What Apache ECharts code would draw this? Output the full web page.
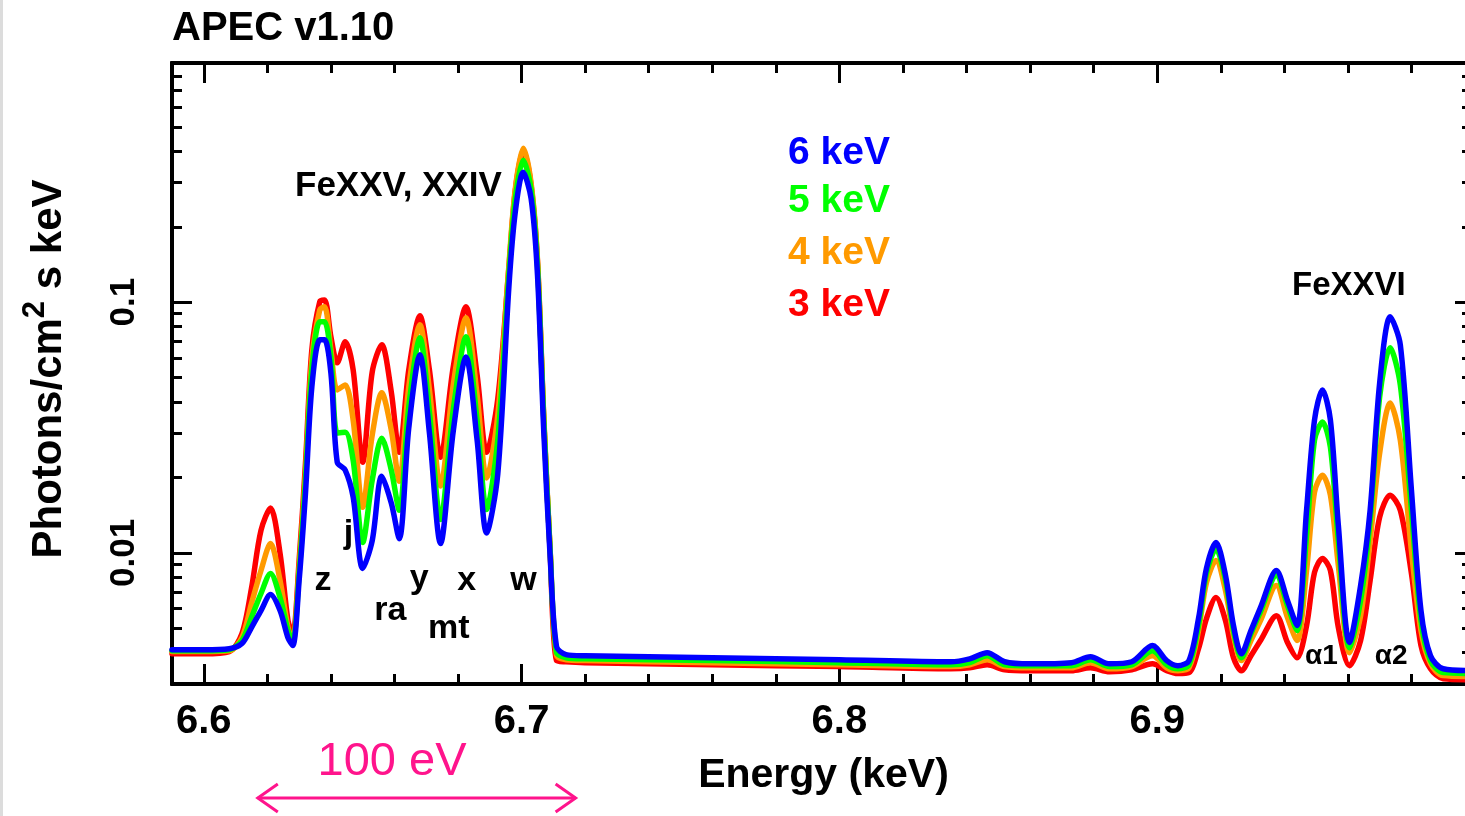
<!DOCTYPE html>
<html>
<head>
<meta charset="utf-8">
<script src="https://cdn.jsdelivr.net/npm/echarts@6/dist/echarts.min.js"></script>
<style>html,body{margin:0;padding:0;background:#fff;}#c{width:1465px;height:816px;}</style>
</head>
<body>
<div id="c"></div>
<script>
// ---------------- data ----------------
const energy = [6.590,6.600,6.608,6.612,6.615,6.618,6.621,6.624,6.6265,6.628,
  6.630,6.632,6.634,6.6365,6.638,6.640,6.642,6.6445,6.647,6.650,
  6.653,6.656,6.659,6.6615,6.6645,6.668,6.671,6.6745,6.6785,6.6825,
  6.686,6.689,6.6925,6.696,6.698,6.7005,6.703,6.705,6.707,6.709,
  6.711,6.714,6.72,6.76,6.80,6.835,6.841,6.8465,6.852,6.86,
  6.873,6.879,6.885,6.892,6.8985,6.903,6.9065,6.910,6.913,6.9155,
  6.9185,6.9215,6.924,6.9265,6.9295,6.9325,6.9375,6.941,6.944,6.947,
  6.9495,6.952,6.9545,6.957,6.9605,6.964,6.967,6.970,6.9733,6.9765,
  6.980,6.983,6.986,6.990,7.000];

const flux6keV = [.00411,.00411,.00415,.00435,.00504,.00589,.00682,.00589,.00459,.00427,
  .00776,.0173,.0459,.0708,.0708,.0522,.0230,.0214,.0167,.00867,
  .0112,.0202,.0158,.0114,.0315,.0617,.0301,.0109,.0306,.0605,
  .0282,.0120,.0206,.115,.228,.330,.259,.129,.0301,.0096,
  .00423,.00393,.00389,.00382,.00375,.00368,.00378,.00400,.00368,.00361,
  .00365,.00385,.00361,.00368,.00427,.00372,.00355,.00372,.00547,.00867,
  .0110,.00813,.00513,.00396,.00490,.00605,.00851,.00646,.00513,.0148,
  .0339,.0447,.0339,.0129,.00439,.00741,.0148,.0476,.0875,.0676,
  .0178,.00589,.00389,.00345,.00339];

const flux5keV = [.00407,.00407,.00411,.00447,.00552,.00689,.00828,.00664,.00490,.00443,
  .00828,.0195,.0537,.0836,.0836,.0605,.0301,.0303,.0234,.0110,
  .0195,.0287,.0214,.0148,.0382,.0721,.0365,.0136,.0372,.0728,
  .0339,.0149,.0282,.129,.257,.368,.282,.140,.0333,.0101,
  .00400,.00382,.00378,.00372,.00365,.00358,.00365,.00389,.00358,.00355,
  .00355,.00375,.00352,.00358,.00407,.00358,.00345,.00358,.00513,.00828,
  .0104,.00776,.00490,.00382,.00476,.00583,.00813,.00617,.00490,.0117,
  .0282,.0333,.0264,.0112,.00419,.00646,.0135,.0419,.0658,.0468,
  .0148,.00537,.00372,.00333,.00330];

const flux4keV = [.00404,.00404,.00407,.00459,.00628,.00851,.0109,.00776,.00504,.00447,
  .00875,.0208,.0589,.0933,.0959,.0646,.0447,.0468,.0339,.0152,
  .0295,.0435,.0309,.0193,.0459,.0813,.0447,.0185,.0468,.0867,
  .0427,.0199,.0352,.140,.282,.411,.298,.148,.0345,.0102,
  .00389,.00375,.00372,.00365,.00358,.00352,.00358,.00375,.00352,.00348,
  .00348,.00365,.00345,.00352,.00389,.00348,.00339,.00348,.00490,.00762,
  .00933,.00708,.00468,.00372,.00447,.00537,.00741,.00552,.00447,.00851,
  .0175,.0204,.0170,.00891,.00400,.00562,.0112,.0250,.0396,.0282,
  .0102,.00490,.00361,.00324,.00321];

const flux3keV = [.00396,.00396,.00404,.00476,.00721,.0123,.0151,.00996,.00537,.00476,
  .00933,.0228,.0646,.1005,.102,.0728,.0573,.0695,.0537,.0230,
  .0527,.0676,.0439,.0252,.0537,.0883,.0537,.0241,.0552,.0959,
  .0513,.0252,.0411,.137,.277,.404,.292,.145,.0339,.0100,
  .00372,.00368,.00365,.00358,.00352,.00345,.00348,.00358,.00342,.00339,
  .00339,.00348,.00336,.00342,.00361,.00339,.00330,.00333,.00415,.00547,
  .00664,.00537,.00382,.00339,.00389,.00447,.00562,.00439,.00382,.00513,
  .00836,.00951,.00851,.00504,.00355,.00447,.00776,.0139,.0170,.0148,
  .00828,.00427,.00345,.00315,.00312];

const seriesNames = ['3 keV', '4 keV', '5 keV', '6 keV'];
const xMajorTicks = [6.6, 6.7, 6.8, 6.9, 7.0];
const xTickLabels = [6.6, 6.7, 6.8, 6.9];
const xMinorTicks = [6.62,6.64,6.66,6.68,6.72,6.74,6.76,6.78,6.82,6.84,6.86,6.88,6.92,6.94,6.96,6.98];
const yMajorTicks = [0.01, 0.1];
const yTickLabels = [0.01, 0.1];
const yMinorTicks = [0.004,0.005,0.006,0.007,0.008,0.009,0.02,0.03,0.04,0.05,0.06,0.07,0.08,0.09,0.2,0.3,0.4,0.5,0.6,0.7,0.8,0.9];
const lineLabels = [
  {t:'z', e:6.6375, y:581},{t:'j', e:6.6455, y:534},{t:'ra', e:6.6587, y:611},
  {t:'y', e:6.6678, y:579},{t:'x', e:6.6827, y:581},{t:'w', e:6.7006, y:581},
  {t:'mt', e:6.6771, y:629}
];

// ---------------- chart ----------------
const FONT = '"Liberation Sans", Arial, Helvetica, sans-serif';
const X_MIN = 6.59, X_MAX = 7.0, Y_MIN = 0.003, Y_MAX = 0.9;
const chart = echarts.init(document.getElementById('c'), null, {renderer: 'canvas', width: 1465, height: 816});

function xAxisDef(pos, ticks, len, labels) {
  return {
    type: 'value', position: pos, min: X_MIN, max: X_MAX, scale: true,
    axisLine: {show: true, onZero: false, lineStyle: {color: '#000', width: 4}},
    axisTick: {show: true, inside: true, length: len, customValues: ticks, lineStyle: {color: '#000', width: 3}},
    axisLabel: labels ? {show: true, customValues: labels, margin: 18, formatter: v => Number(v).toFixed(1),
      fontSize: 40, fontWeight: 'bold', fontFamily: FONT, color: '#000'} : {show: false},
    splitLine: {show: false}, minorTick: {show: false}
  };
}
function yAxisDef(pos, ticks, len, labels) {
  return {
    type: 'log', logBase: 10, position: pos, min: Y_MIN, max: Y_MAX,
    axisLine: {show: true, onZero: false, lineStyle: {color: '#000', width: 4}},
    axisTick: {show: true, inside: true, length: len, customValues: ticks, lineStyle: {color: '#000', width: 3}},
    axisLabel: labels ? {show: true, customValues: labels, rotate: 90, margin: 30,
      formatter: v => String(Number(Number(v).toPrecision(2))),
      fontSize: 35, fontWeight: 'bold', fontFamily: FONT, color: '#000'} : {show: false},
    splitLine: {show: false}, minorTick: {show: false}
  };
}

const xAxes = [
  xAxisDef('bottom', xMajorTicks, 20, xTickLabels),
  xAxisDef('bottom', xMinorTicks, 10, null),
  xAxisDef('top', xMajorTicks, 20, null),
  xAxisDef('top', xMinorTicks, 10, null)
];
xAxes[0].name = 'Energy (keV)';
xAxes[0].nameLocation = 'middle';
xAxes[0].nameGap = 71;
xAxes[0].nameTextStyle = {fontSize: 41, fontWeight: 'bold', fontFamily: FONT, color: '#000'};

const yAxes = [
  yAxisDef('left', yMajorTicks, 20, yTickLabels),
  yAxisDef('left', yMinorTicks, 10, null),
  yAxisDef('right', yMajorTicks, 20, null),
  yAxisDef('right', yMinorTicks, 13, null)
];

const colors = {'3 keV': '#ff0000', '4 keV': '#ff9a00', '5 keV': '#00ff00', '6 keV': '#0000ff'};
const fluxes = {'3 keV': flux3keV, '4 keV': flux4keV, '5 keV': flux5keV, '6 keV': flux6keV};

const series = seriesNames.map((name, k) => ({
  name, type: 'line', xAxisIndex: 0, yAxisIndex: 0,
  data: energy.map((e, i) => [e, fluxes[name][i]]),
  showSymbol: false, symbol: 'none', smooth: 0.3, clip: true, silent: true,
  color: colors[name], z: 2 + k,
  lineStyle: {color: colors[name], width: 5.5, cap: 'round', join: 'round'}
}));

chart.setOption({
  animation: false,
  backgroundColor: '#fff',
  title: {text: 'APEC v1.10', left: 172, top: 9, padding: 0,
    textStyle: {fontSize: 40, fontWeight: 'bold', fontFamily: FONT, color: '#000'}},
  grid: {left: 172, top: 63, width: 1303, height: 621, containLabel: false, outerBoundsMode: 'none'},
  xAxis: xAxes,
  yAxis: yAxes,
  series
});

// ---------------- annotations ----------------
function px(e) { return chart.convertToPixel({xAxisIndex: 0}, e); }
function txt(x, y, t, size, color, align, weight, extra) {
  return Object.assign({
    type: 'text', x, y, silent: true, z: 100,
    style: {text: t, fill: color, font: (weight || 'bold') + ' ' + size + 'px ' + FONT,
      align: align || 'center', textAlign: align || 'center',
      verticalAlign: 'middle', textVerticalAlign: 'middle'}
  }, extra || {});
}

const legendItems = [
  {name: '6 keV', y: 153}, {name: '5 keV', y: 201}, {name: '4 keV', y: 253}, {name: '3 keV', y: 305}
];
const arrowStartE = 6.617, arrowSpan = 0.1;
const ax0 = px(arrowStartE), ax1 = px(arrowStartE + arrowSpan);
const pink = '#ff148c';
const ay = 798;

const graphics = [
  {type: 'rect', shape: {x: 0, y: 0, width: 3, height: 816}, style: {fill: '#dcdcdc'}, silent: true},
  {
    type: 'text', x: 45, y: 369, rotation: Math.PI / 2, silent: true, z: 100,
    style: {
      text: '{a|Photons/cm}{s|2}{a| s keV}',
      align: 'center', textAlign: 'center', verticalAlign: 'middle', textVerticalAlign: 'middle',
      rich: {
        a: {fontSize: 42, fontWeight: 'bold', fontFamily: FONT, fill: '#000', color: '#000', lineHeight: 50, verticalAlign: 'bottom'},
        s: {fontSize: 31, fontWeight: 'bold', fontFamily: FONT, fill: '#000', color: '#000', lineHeight: 30, verticalAlign: 'top'}
      }
    }
  },
  txt(295, 186, 'FeXXV, XXIV', 35, '#000', 'left'),
  txt(1292, 286, 'FeXXVI', 33, '#000', 'left'),
  txt(px(6.952) - 1, 656, 'α1', 28, '#000', 'center'),
  txt(px(6.9733) + 1, 656, 'α2', 28, '#000', 'center'),
  txt(392, 762, '100 eV', 47, pink, 'center', 'normal'),
  {type: 'polyline', silent: true, z: 100, shape: {points: [[ax0, ay], [ax1, ay]]}, style: {stroke: pink, lineWidth: 3, fill: null}},
  {type: 'polyline', silent: true, z: 100, shape: {points: [[ax0 + 20, ay - 14], [ax0, ay], [ax0 + 20, ay + 14]]}, style: {stroke: pink, lineWidth: 3, fill: null}},
  {type: 'polyline', silent: true, z: 100, shape: {points: [[ax1 - 20, ay - 14], [ax1, ay], [ax1 - 20, ay + 14]]}, style: {stroke: pink, lineWidth: 3, fill: null}}
];
legendItems.forEach(it => graphics.push(txt(788, it.y, it.name, 39, colors[it.name], 'left')));
lineLabels.forEach(l => graphics.push(txt(px(l.e), l.y, l.t, 34, '#000', 'center')));

chart.setOption({graphic: graphics});
</script>
</body>
</html>
